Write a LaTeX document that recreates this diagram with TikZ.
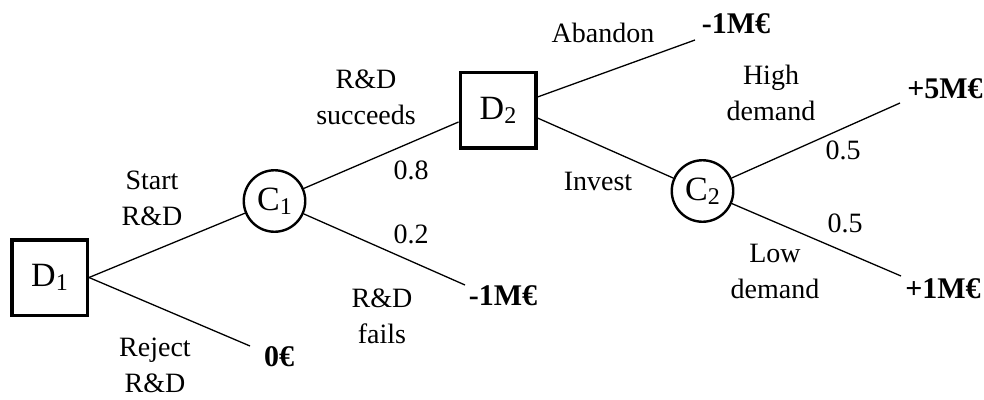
\documentclass[tikz,border=0pt]{standalone}
\usepackage{fontspec}
\setmainfont{Liberation Serif}
\usetikzlibrary{calc}
\newcommand\subidx[1]{\raisebox{-4pt}{\fontsize{24}{24}\selectfont #1}}
\begin{document}
\begin{tikzpicture}[x=1pt,y=-1pt,
  decision/.style={draw,line width=3.5pt,minimum size=75.5pt,inner sep=0pt,
    font=\fontsize{34}{34}\selectfont},
  chance/.style={draw,circle,line width=2.4pt,minimum size=61.5pt,inner sep=0pt,
    font=\fontsize{34}{34}\selectfont},
  branch/.style={line width=1.3pt},
  lbl/.style={font=\fontsize{28}{36}\selectfont,align=center,anchor=base,inner sep=0pt},
  pay/.style={font=\fontsize{30}{36}\selectfont\bfseries,anchor=base,inner sep=0pt}]
\useasboundingbox (0,0) rectangle (984,399);

% decision and chance nodes
\node[decision] (d1) at (49.5,277.5) {D\subidx{1}};
\node[chance]   (c1) at (274.5,201)  {C\subidx{1}};
\node[decision] (d2) at (498,110)    {D\subidx{2}};
\node[chance]   (c2) at (702.5,191)  {C\subidx{2}};

% free ends of the branches
\coordinate (e0)  at (250,346);
\coordinate (ef)  at (465,285);
\coordinate (ea)  at (695,40);
\coordinate (eh)  at (900,103);
\coordinate (el)  at (901,276);
\coordinate (d2in)  at ($(d2.west)+(0,12)$);
\coordinate (d2up)  at ($(d2.east)+(0,-13)$);
\coordinate (d2lo)  at ($(d2.east)+(0,8)$);

% branches
\draw[branch] (d1.east) -- (c1);
\draw[branch] (d1.east) -- (e0);
\draw[branch] (c1) -- (d2in);
\draw[branch] (c1) -- (ef);
\draw[branch] (d2up) -- (ea);
\draw[branch] (d2lo) -- (c2);
\draw[branch] (c2) -- (eh);
\draw[branch] (c2) -- (el);

% branch labels (two-line labels are placed by the baseline of their last line)
\node[lbl] (ls)  at (152,225) {Start\\R\&D};
\node[lbl] (lr)  at (155,392) {Reject\\R\&D};
\node[lbl] (lsu) at (366,124) {R\&D\\succeeds};
\node[lbl] (lfa) at (382,343) {R\&D\\fails};
\node[lbl] (p8)  at (411,179) {0.8};
\node[lbl] (p2)  at (411,243) {0.2};
\node[lbl] (lab) at (603,42)  {Abandon};
\node[lbl] (lin) at (598,190) {Invest};
\node[lbl] (lhi) at (771,120) {High\\demand};
\node[lbl] (llo) at (775,298) {Low\\demand};
\node[lbl] (p5a) at (843,159) {0.5};
\node[lbl] (p5b) at (845,232) {0.5};

% payoffs
\node[pay] (v0)  at (279,366) {0€};
\node[pay] (vf)  at (503,305) {-1M€};
\node[pay] (va)  at (736,33)  {-1M€};
\node[pay] (vh)  at (945,98)  {+5M€};
\node[pay] (vl)  at (943,298) {+1M€};
\end{tikzpicture}
\end{document}
